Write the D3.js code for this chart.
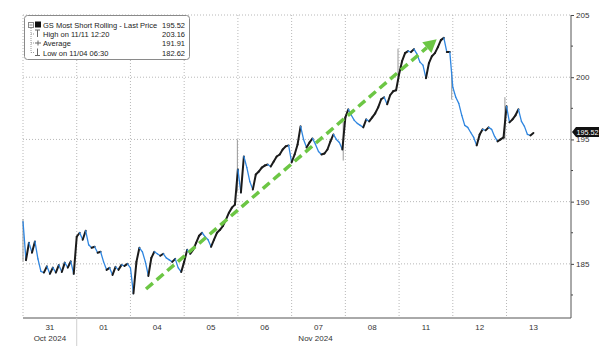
<!DOCTYPE html>
<html>
<head>
<meta charset="utf-8">
<script src="https://cdn.jsdelivr.net/npm/d3@7"></script>
<style>
  html, body { margin: 0; padding: 0; background: #fff; }
  svg { display: block; font-family: "Liberation Sans", Arial, sans-serif; }
</style>
</head>
<body>
<svg id="chart" width="604" height="350"></svg>
<script>
// Trading days on the x axis
const dayLabels = ["31", "01", "04", "05", "06", "07", "08", "11", "12", "13"];
const monthLabels = ["Oct 2024", "Nov 2024"];
const monthSpans = [[0, 1], [1, 10]];

// Intraday prices, one array per trading day (equal time steps)
const day31 = [188.4, 185.3, 186.7, 185.9, 186.8, 185.4, 184.4, 184.3, 184.8, 184.2, 184.7, 184.3, 184.9, 184.35, 185.1, 184.7, 185.2, 184.2];
const day01 = [187.18, 187.5, 186.94, 187.66, 186.53, 186.29, 186.37, 185.89, 185.97, 185.16, 184.52, 184.68, 184.11, 184.76, 184.52, 184.92, 184.84, 185.0];
const day04 = [184.68, 182.62, 185.16, 186.29, 185.97, 185.16, 184.03, 185.48, 185.97, 185.81, 185.65, 185.81, 185.48, 185.32, 185.16, 185.4, 184.68, 184.35];
const day05 = [185.16, 186.13, 185.81, 186.13, 186.69, 187.26, 187.5, 187.18, 186.94, 186.37, 186.94, 187.5, 187.74, 188.06, 188.55, 189.11, 189.52, 189.76];
const day06 = [192.58, 190.73, 193.63, 192.74, 191.61, 190.97, 192.18, 192.42, 192.74, 192.9, 192.98, 192.82, 193.23, 193.63, 193.79, 194.19, 194.44, 194.52];
const day07 = [193.15, 193.79, 194.6, 196.05, 195.0, 194.35, 194.76, 195.08, 194.6, 194.03, 193.79, 193.87, 194.19, 194.84, 195.4, 195.0, 194.76, 194.19];
const day08 = [196.77, 197.42, 196.94, 196.53, 196.29, 196.13, 195.97, 196.61, 196.45, 196.77, 197.1, 197.58, 198.23, 198.39, 197.82, 198.55, 198.87, 198.95];
const day11 = [200.24, 201.29, 201.94, 202.1, 202.02, 202.26, 201.85, 201.21, 200.97, 199.92, 201.13, 201.69, 201.94, 202.42, 202.98, 203.16, 202.02, 202.02];
const day12 = [199.19, 198.39, 197.9, 196.94, 196.13, 195.97, 195.56, 195.16, 194.52, 195.4, 195.81, 195.73, 195.97, 195.81, 195.24, 194.84, 195.0, 195.16];
const day13 = [197.66, 196.37, 196.61, 196.94, 197.42, 196.45, 196.05, 195.4, 195.32, 195.52];
const dayPrices = [day31, day01, day04, day05, day06, day07, day08, day11, day12, day13];
const stepsPerDay = 18;

// Session range spikes: [position in days, low, high]
const spikePos  = [0.0, 3.99, 5.96, 6.98, 7.98, 8.97];
const spikeLow  = [185.2, 190.8, 193.3, 200.0, 198.2, 195.0];
const spikeHigh = [188.6, 195.0, 196.4, 202.3, 200.5, 198.4];

// Legend rows
const legendNames  = ["GS Most Short Rolling - Last Price", "High on 11/11 12:20", "Average", "Low on 11/04 06:30"];
const legendValues = ["195.52", "203.16", "191.91", "182.62"];
const lastPrice = 195.52;

// Price axis
const yTicks = [185, 190, 195, 200, 205];
const yMinorTicks = [182.5, 187.5, 192.5, 197.5, 202.5];

// Trend arrow annotation: [day position, price]
const trendStart = [2.29, 182.98];
const trendEnd = [7.70, 203.06];

const svg = d3.select("#chart");
const plot = { left: 23, right: 571, top: 15, bottom: 318 };

const x = d3.scaleLinear().domain([0, 10.2]).range([plot.left, plot.right]);
const y = d3.scaleLinear().domain([180.65, 205]).range([plot.bottom, plot.top]);

// Flatten into points
const points = [];
dayPrices.forEach((arr, d) => {
  arr.forEach((v, i) => points.push({ t: d + i / stepsPerDay, v }));
});

// Grid
const grid = svg.append("g");
grid.selectAll("line.h").data(yTicks).join("line")
  .attr("x1", plot.left).attr("x2", plot.right)
  .attr("y1", d => y(d)).attr("y2", d => y(d))
  .attr("stroke", "#b8b8b8").attr("stroke-width", 1).attr("stroke-dasharray", "1,2");
grid.selectAll("line.v").data(d3.range(0, 10)).join("line")
  .attr("x1", d => x(d)).attr("x2", d => x(d))
  .attr("y1", plot.top).attr("y2", plot.bottom)
  .attr("stroke", "#b8b8b8").attr("stroke-width", 1).attr("stroke-dasharray", "1,2");

// Range spikes
svg.append("g").selectAll("line").data(spikePos).join("line")
  .attr("x1", d => x(d)).attr("x2", d => x(d))
  .attr("y1", (d, i) => y(spikeLow[i])).attr("y2", (d, i) => y(spikeHigh[i]))
  .attr("stroke", "#9a9a9a").attr("stroke-width", 1);

// Price path: rising steps in black, falling steps in blue
const segs = d3.pairs(points);
svg.append("g").selectAll("line").data(segs).join("line")
  .attr("x1", d => x(d[0].t)).attr("y1", d => y(d[0].v))
  .attr("x2", d => x(d[1].t)).attr("y2", d => y(d[1].v))
  .attr("stroke", d => d[1].v >= d[0].v ? "#1b1b1b" : "#2f86e0")
  .attr("stroke-width", d => d[1].v >= d[0].v ? 2 : 1.3)
  .attr("stroke-linecap", "round");

// Trend arrow
const ax0 = x(trendStart[0]), ay0 = y(trendStart[1]);
const ax1 = x(trendEnd[0]), ay1 = y(trendEnd[1]);
const ang = Math.atan2(ay1 - ay0, ax1 - ax0);
const headLen = 13, headW = 7;
const bx = ax1 - headLen * Math.cos(ang), by = ay1 - headLen * Math.sin(ang);
svg.append("line")
  .attr("x1", ax0).attr("y1", ay0).attr("x2", bx).attr("y2", by)
  .attr("stroke", "#6cc644").attr("stroke-width", 3.5)
  .attr("stroke-dasharray", "9,5");
svg.append("path")
  .attr("d", `M${ax1},${ay1}L${bx + headW * Math.sin(ang)},${by - headW * Math.cos(ang)}L${bx - headW * Math.sin(ang)},${by + headW * Math.cos(ang)}Z`)
  .attr("fill", "#6cc644");

// Right price axis
const yAxis = d3.axisRight(y).tickValues(yTicks).tickSize(3).tickPadding(2).tickFormat(d3.format("d"));
const ya = svg.append("g").attr("transform", `translate(${plot.right},0)`).call(yAxis);
ya.select(".domain").remove();
ya.selectAll("line").attr("stroke", "#444");
ya.selectAll("text").attr("fill", "#333").style("font-size", "8px").style("font-family", "Liberation Sans, Arial, sans-serif");
svg.append("g").selectAll("line").data(yMinorTicks).join("line")
  .attr("x1", plot.right).attr("x2", plot.right + 2)
  .attr("y1", d => y(d)).attr("y2", d => y(d))
  .attr("stroke", "#444");
svg.append("line")
  .attr("x1", plot.right).attr("x2", plot.right)
  .attr("y1", plot.top).attr("y2", plot.bottom)
  .attr("stroke", "#555").attr("stroke-width", 1);

// Bottom axis
svg.append("line")
  .attr("x1", plot.left).attr("x2", plot.right)
  .attr("y1", plot.bottom).attr("y2", plot.bottom)
  .attr("stroke", "#555").attr("stroke-width", 1);
svg.append("g").selectAll("text").data(dayLabels).join("text")
  .attr("x", (d, i) => x(i + 0.5)).attr("y", 330)
  .attr("text-anchor", "middle").attr("fill", "#333").style("font-size", "8px")
  .text(d => d);
svg.append("g").selectAll("text").data(monthLabels).join("text")
  .attr("x", (d, i) => (x(monthSpans[i][0]) + x(monthSpans[i][1])) / 2 - (i ? 3 : 0)).attr("y", 341)
  .attr("text-anchor", "middle").attr("fill", "#333").style("font-size", "8px")
  .text(d => d);
svg.append("line")
  .attr("x1", x(1)).attr("x2", x(1)).attr("y1", plot.bottom).attr("y2", 346)
  .attr("stroke", "#cfcfcf");

// Last price tag
const ty = y(lastPrice) - 1;
const tag = svg.append("g");
tag.append("path")
  .attr("d", `M${plot.right + 1},${ty}L${plot.right + 5},${ty - 5}L${plot.right + 28},${ty - 5}L${plot.right + 28},${ty + 5}L${plot.right + 5},${ty + 5}Z`)
  .attr("fill", "#111");
tag.append("text").attr("x", plot.right + 16.5).attr("y", ty + 2.7)
  .attr("text-anchor", "middle").attr("fill", "#fff").style("font-size", "7.2px")
  .text(d3.format(".2f")(lastPrice));

// Legend
const lg = svg.append("g");
lg.append("rect").attr("x", 24.5).attr("y", 15.5).attr("width", 165).attr("height", 44)
  .attr("rx", 3).attr("fill", "#fff").attr("stroke", "#8a8a8a");
const rowY = [25, 34, 43, 52.5];
lg.append("path").attr("d", `M31,28V${rowY[3]}M31,${rowY[1]}H34M31,${rowY[2]}H34M31,${rowY[3]}H34`)
  .attr("stroke", "#999").attr("stroke-dasharray", "1,1").attr("fill", "none");
lg.append("rect").attr("x", 28.5).attr("y", 22.5).attr("width", 5).attr("height", 5)
  .attr("fill", "#fff").attr("stroke", "#888");
lg.append("path").attr("d", "M29.5,25H32.5").attr("stroke", "#888");
lg.append("rect").attr("x", 35).attr("y", 21.5).attr("width", 6).attr("height", 6).attr("fill", "#111");
lg.append("path").attr("d", `M35,${rowY[1] - 4}H40M37.5,${rowY[1] - 4}V${rowY[1] + 3}`).attr("stroke", "#666");
lg.append("path").attr("d", `M35,${rowY[2]}H41M38,${rowY[2] - 2.5}V${rowY[2] + 2.5}`).attr("stroke", "#666");
lg.append("path").attr("d", `M35,${rowY[3] + 3}H40M37.5,${rowY[3] - 4}V${rowY[3] + 3}`).attr("stroke", "#666");
lg.selectAll("text.n").data(legendNames).join("text")
  .attr("x", 43).attr("y", (d, i) => rowY[i] + 3)
  .attr("fill", "#222").style("font-size", "7.5px").text(d => d);
lg.selectAll("text.v").data(legendValues).join("text")
  .attr("x", 185).attr("y", (d, i) => rowY[i] + 3)
  .attr("text-anchor", "end").attr("fill", "#222").style("font-size", "7.5px").text(d => d);
</script>
</body>
</html>
